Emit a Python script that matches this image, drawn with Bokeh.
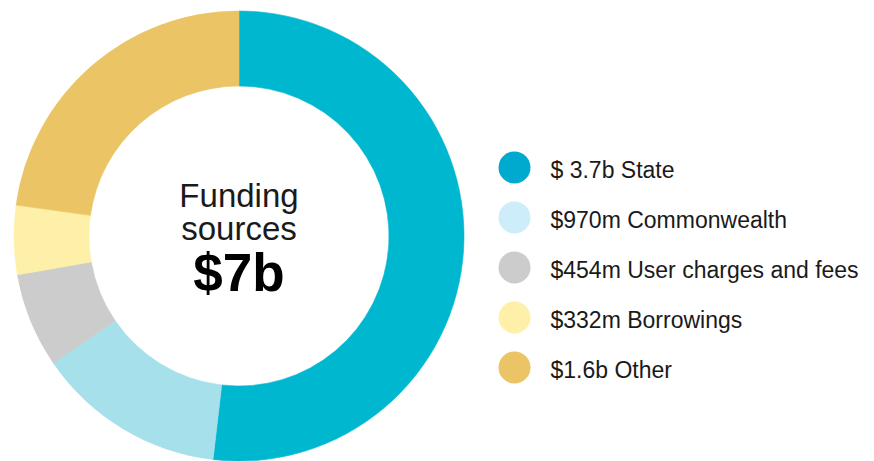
import numpy as np
from bokeh.plotting import figure
from bokeh.models import ColumnDataSource, Range1d
from bokeh.core.properties import value
from bokeh.embed import file_html
from bokeh.resources import INLINE

# ---- data ----
categories = ["State", "Commonwealth", "User charges and fees", "Borrowings", "Other"]
# slice sizes as drawn in the picture (billions)
slice_values_b = [3.66, 0.96, 0.48, 0.35, 1.61]
legend_labels = ["$ 3.7b State", "$970m Commonwealth", "$454m User charges and fees",
                 "$332m Borrowings", "$1.6b Other"]
center_title = ["Funding", "sources"]
center_total = "$7b"

# ---- styles ----
wedge_colors = ["#00b7d0", "#a6e0eb", "#cccccc", "#fef0a8", "#eac465"]
legend_colors = ["#00a9ce", "#ccedf9", "#cccccc", "#fef0a8", "#eac465"]
FONT = "Liberation Sans"
TEXT_COLOR = "#1a1a1a"

W, H = 866, 461
p = figure(width=W, height=H, output_backend="svg", toolbar_location=None,
           x_range=Range1d(0, W), y_range=Range1d(0, H), min_border=0,
           outline_line_color=None, background_fill_color="white",
           border_fill_color="white")
p.axis.visible = False
p.grid.visible = False

# donut (clockwise from 12 o'clock)
vals = np.array(slice_values_b)
frac = vals / vals.sum()
cum = np.concatenate([[0], np.cumsum(frac)])
start = np.pi / 2 - cum[:-1] * 2 * np.pi
end = np.pi / 2 - cum[1:] * 2 * np.pi
cx, cy = 238.5, 225.5
src = ColumnDataSource(dict(start=start, end=end, color=wedge_colors, cat=categories))
p.annular_wedge(x=cx, y=cy, inner_radius=150, outer_radius=225,
                start_angle="start", end_angle="end", direction="clock",
                fill_color="color", line_color="color", line_width=0.6, source=src)

# center text
p.text(x=[cx, cx], y=[266, 233], text=center_title, text_align="center",
       text_baseline="alphabetic", text_font=value(FONT), text_font_size="33px",
       text_color=TEXT_COLOR)
p.text(x=[cx], y=[189], text=[center_total], text_align="center",
       text_baseline="alphabetic", text_font=value(FONT), text_font_size="53px",
       text_font_style="bold", text_color="#000000")

# legend
n = len(legend_labels)
ly_circle = [294 - 50 * i for i in range(n)]
ly_text = [292 - 50 * i for i in range(n)]
p.scatter(x=[514] * n, y=ly_circle, size=32, marker="circle",
          fill_color=legend_colors, line_color=None)
p.text(x=[550] * n, y=ly_text, text=legend_labels, text_align="left",
       text_baseline="alphabetic", text_font=value(FONT), text_font_size="23px",
       text_color=TEXT_COLOR)

open("out.html", "w").write(file_html(p, INLINE))
